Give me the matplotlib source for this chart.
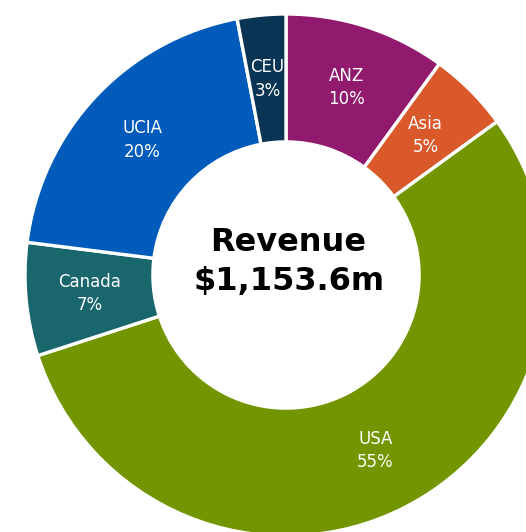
import numpy as np
import matplotlib.pyplot as plt

regions = ["ANZ", "Asia", "USA", "Canada", "UCIA", "CEU"]
shares = [10, 5, 55, 7, 20, 3]
colors = ["#921A6E", "#D9592B", "#739500", "#19666D", "#005BBB", "#0A3454"]
total_label = "Revenue\n$1,153.6m"

fig = plt.figure(figsize=(5.26, 5.32), dpi=100)
ax = fig.add_axes([0, 0, 1, 1])

outer = 1.0
ring = 0.49
wedges, _ = ax.pie(shares, colors=colors, startangle=90, counterclock=False,
                   radius=outer,
                   wedgeprops=dict(width=ring, edgecolor="white", linewidth=2.4))

# labels in the middle of each ring segment
mid_r = outer - ring / 2
for w, name, s in zip(wedges, regions, shares):
    ang = np.deg2rad((w.theta1 + w.theta2) / 2)
    ax.text(mid_r * np.cos(ang), mid_r * np.sin(ang), f"{name}\n{s}%",
            ha="center", va="center", color="white", fontsize=12,
            linespacing=1.4)

ax.text(0.01, 0.05, total_label, ha="center", va="center", fontsize=23,
        fontweight="bold", linespacing=1.3)

# chart is cropped on the right and bottom like the original
ax.set_xlim(-286 / 261, (526 - 286) / 261)
ax.set_ylim(-(532 - 275) / 261, 275 / 261)
ax.set_aspect("equal")
ax.axis("off")

fig.savefig("out.png", dpi=100)
